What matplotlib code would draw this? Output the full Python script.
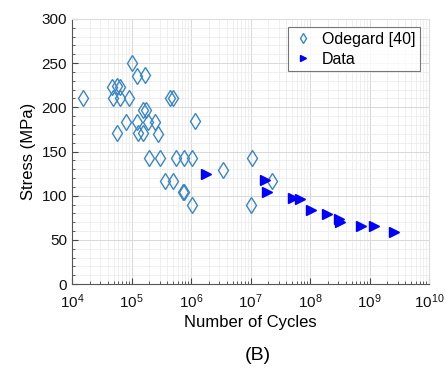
import numpy as np
import matplotlib
matplotlib.use('Agg')
import matplotlib.pyplot as plt
from matplotlib.ticker import LogLocator, MultipleLocator, NullFormatter

plt.rcParams['font.family'] = ['Liberation Sans', 'DejaVu Sans']

# Odegard [40] points: log10(cycles), stress (MPa)
odegard_logn = [4.18, 5.01, 5.10, 5.23, 4.68, 4.75, 4.80, 4.69, 4.81, 4.96,
                5.65, 5.69, 5.20, 5.24, 4.91, 5.10, 5.27, 5.39, 6.07, 4.75,
                5.11, 5.20, 5.44, 5.29, 5.48, 5.75, 5.88, 6.02, 7.03, 6.53,
                5.56, 5.69, 5.86, 5.89, 6.01, 7.01, 7.36]
odegard_stress = [210, 250, 236, 237, 223, 224, 223, 210, 210, 210,
                  210, 211, 197, 197, 183, 183, 183, 183, 184, 171,
                  171, 171, 170, 143, 143, 143, 143, 143, 143, 129,
                  117, 117, 104, 104.5, 89, 90, 117]

# Data points
data_logn = [6.26, 7.24, 7.28, 7.72, 7.84, 8.01, 8.28, 8.49, 8.50, 8.85, 9.08, 9.41]
data_stress = [124, 118, 104, 97, 96, 84, 79, 73.5, 70.5, 66, 65.5, 58.5]

odegard_n = 10 ** np.array(odegard_logn)
data_n = 10 ** np.array(data_logn)

fig = plt.figure(figsize=(4.46, 3.8), dpi=100)
ax = fig.add_axes([72/446, 1 - 284/380, (429-72)/446, (284-19)/380])

ax.plot(odegard_n, odegard_stress, linestyle='none', marker='d', markersize=8,
        markerfacecolor='none', markeredgecolor='#3a86c4', markeredgewidth=1.0,
        label='Odegard [40]')
ax.plot(data_n, data_stress, linestyle='none', marker='>', markersize=7,
        color='#0000ff', label='Data')

ax.set_xscale('log')
ax.set_xlim(1e4, 1e10)
ax.set_ylim(0, 300)
ax.xaxis.set_major_locator(LogLocator(base=10, numticks=10))
ax.xaxis.set_minor_locator(LogLocator(base=10, subs=np.arange(2, 10), numticks=20))
ax.xaxis.set_minor_formatter(NullFormatter())
ax.yaxis.set_major_locator(MultipleLocator(50))
ax.yaxis.set_minor_locator(MultipleLocator(10))

ax.grid(True, which='major', color='#d8d8d8', linewidth=0.7)
ax.grid(True, which='minor', color='#ececec', linewidth=0.6)
ax.set_axisbelow(True)

ax.tick_params(which='both', direction='in', top=False, right=False, colors='#444444',
               labelcolor='#111111', labelsize=11)
ax.tick_params(which='major', length=4)
ax.tick_params(which='minor', length=2)
ax.tick_params(axis='x', which='major', pad=6)
for s in ['left', 'bottom']:
    ax.spines[s].set_color('#555555')
for s in ['top', 'right']:
    ax.spines[s].set_color('#dddddd')

ax.set_xlabel('Number of Cycles', fontsize=12, labelpad=3)
ax.set_ylabel('Stress (MPa)', fontsize=12, labelpad=4)

leg = ax.legend(loc='upper right', fontsize=11.5, frameon=True, fancybox=False,
                edgecolor='#555555', borderpad=0.3, handletextpad=0.5,
                labelspacing=0.3, handlelength=1.3, markerscale=0.65,
                borderaxespad=0, bbox_to_anchor=(0.975, 0.97))
leg.get_frame().set_linewidth(0.8)

fig.text(258/446, 1 - 355/380, '(B)', fontsize=14, ha='center', va='center')

fig.savefig('out.png', dpi=100)
